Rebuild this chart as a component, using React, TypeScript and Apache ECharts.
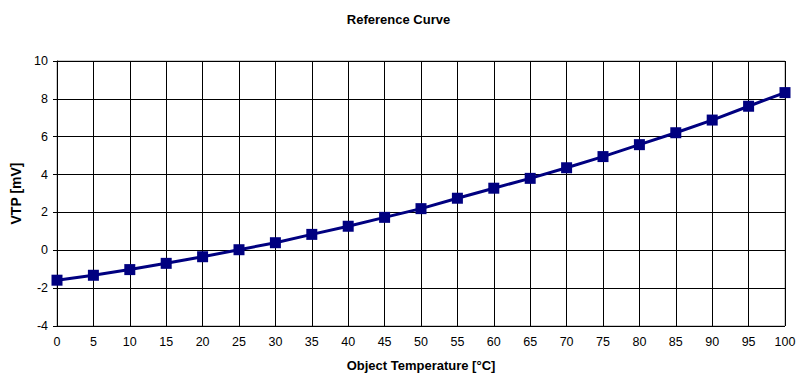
import React, { useEffect, useRef } from "react";
import * as echarts from "echarts";

const temperatures = [0, 5, 10, 15, 20, 25, 30, 35, 40, 45, 50, 55, 60, 65, 70, 75, 80, 85, 90, 95, 100];
const vtp = [-1.58, -1.32, -1.02, -0.69, -0.34, 0.03, 0.4, 0.84, 1.27, 1.74, 2.2, 2.75, 3.28, 3.8, 4.36, 4.95, 5.58, 6.21, 6.88, 7.61, 8.33];

const FONT = "'Liberation Sans', Arial, sans-serif";

export default function App() {
  const ref = useRef<HTMLDivElement>(null);
  useEffect(() => {
    if (!ref.current) return;
    const chart = echarts.init(ref.current, undefined, { renderer: "svg" });
    chart.setOption({
      animation: false,
      backgroundColor: "#ffffff",
      title: {
        text: "Reference Curve",
        left: "center",
        top: 8,
        textStyle: { fontFamily: FONT, fontSize: 13, fontWeight: "bold", color: "#000" },
      },
      grid: {
        left: 57,
        right: 12,
        top: 61,
        bottom: 48,
        containLabel: false,
        outerBoundsMode: "none",
        show: true,
        borderColor: "#999",
        borderWidth: 1,
      },
      xAxis: {
        type: "value",
        min: 0,
        max: 100,
        interval: 5,
        name: "Object Temperature [°C]",
        nameLocation: "middle",
        nameGap: 33,
        nameTextStyle: { fontFamily: FONT, fontSize: 13, fontWeight: "bold", color: "#000" },
        axisLine: { show: true, lineStyle: { color: "#000", width: 1 } },
        axisTick: { show: true, length: 4, lineStyle: { color: "#000" } },
        axisLabel: { fontFamily: FONT, fontSize: 12.5, color: "#000", margin: 9 },
        splitLine: { show: true, lineStyle: { color: "#000", width: 1 } },
      },
      yAxis: {
        type: "value",
        min: -4,
        max: 10,
        interval: 2,
        name: "VTP [mV]",
        nameLocation: "middle",
        nameGap: 29,
        nameRotate: 90,
        nameTextStyle: { fontFamily: FONT, fontSize: 14, fontWeight: "bold", color: "#000" },
        axisLine: { show: true, lineStyle: { color: "#000", width: 1 } },
        axisTick: { show: true, length: 4, lineStyle: { color: "#000" } },
        axisLabel: { fontFamily: FONT, fontSize: 12.5, color: "#000", margin: 9 },
        splitLine: { show: true, lineStyle: { color: "#000", width: 1 } },
      },
      series: [
        {
          type: "line",
          data: temperatures.map((t, i) => [t, vtp[i]]),
          symbol: "rect",
          symbolSize: 11,
          itemStyle: { color: "#000080" },
          lineStyle: { color: "#000080", width: 3 },
        },
      ],
    });
    return () => chart.dispose();
  }, []);
  return <div ref={ref} style={{ width: 797, height: 374, position: "absolute", left: 0, top: 0 }} />;
}
